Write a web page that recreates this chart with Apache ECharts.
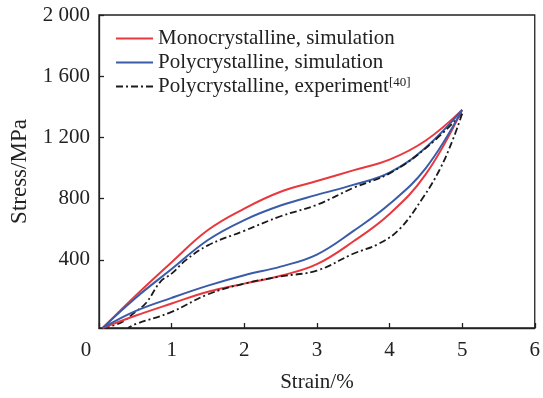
<!DOCTYPE html>
<html>
<head>
<meta charset="utf-8">
<script src="https://cdn.jsdelivr.net/npm/echarts@6/dist/echarts.min.js"></script>
<style>html,body{margin:0;padding:0;background:#fff;}#c{width:543px;height:398px;}</style>
</head>
<body>
<div id="c"></div>
<script>
// Strain (%) , Stress (MPa) pairs
const monoLoading   = [[0.05,-45],[0.5,165],[1.0,385],[1.5,595],[2.0,735],[2.5,845],[3.0,915],[3.5,985],[4.0,1055],[4.5,1180],[5.0,1380]];
const monoUnloading = [[5.0,1380],[4.5,960],[4.0,700],[3.5,520],[3.0,372],[2.5,296],[2.0,245],[1.5,192],[1.0,115],[0.5,35],[0.05,-45]];
const polyLoading   = [[0.05,-45],[0.5,150],[1.0,340],[1.5,530],[2.0,660],[2.5,755],[3.0,825],[3.5,890],[4.0,970],[4.5,1135],[5.0,1380]];
const polyUnloading = [[5.0,1380],[4.5,1000],[4.0,765],[3.5,588],[3.0,435],[2.5,356],[2.0,300],[1.5,232],[1.0,152],[0.5,65],[0.05,-45]];
const expLoading    = [[0.05,-45],[0.3,-10],[0.5,60],[0.65,120],[0.85,260],[1.0,310],[1.2,400],[1.5,495],[2.0,590],[2.5,685],[3.0,760],[3.5,870],[4.0,965],[4.5,1130],[5.0,1355]];
const expUnloading  = [[5.0,1355],[4.87,1183],[4.69,989],[4.46,806],[4.14,602],[3.85,505],[3.5,440],[3.0,330],[2.5,292],[2.0,245],[1.5,175],[1.0,60],[0.5,-20],[0.4,-45]];

const seriesNames = ['Monocrystalline, simulation','Polycrystalline, simulation','Polycrystalline, experiment[40]'];
const xTicks = [0,1,2,3,4,5,6];
const yTicks = [400,800,1200,1600,2000];

const FONT = 'Liberation Serif';
const RED = '#e8383d', BLUE = '#3a5ba8', BLACK = '#1a1a1a';

function line(name, data, color, type, width) {
  return {
    name: name, type: 'line', data: data, smooth: 0.4,
    showSymbol: false, symbol: 'none', symbolSize: 0,
    lineStyle: {color: color, width: width, type: type}, itemStyle: {color: color},
    animation: false
  };
}

const chart = echarts.init(document.getElementById('c'), null, {renderer: 'canvas'});
chart.setOption({
  backgroundColor: '#fff',
  animation: false,
  grid: {left: 99, right: 6, top: 15, bottom: 66, show: true, borderColor: '#222', borderWidth: 1.3, backgroundColor: 'transparent'},
  legend: {
    data: seriesNames, orient: 'vertical', left: 110, top: 23,
    itemWidth: 37, itemHeight: 10, itemGap: 3,
    itemStyle: {opacity: 0},
    textStyle: {fontFamily: FONT, fontSize: 21, color: '#222', lineHeight: 21,
      rich: {sup: {fontFamily: FONT, fontSize: 13, color: '#222', verticalAlign: 'top', lineHeight: 13, padding: [0,0,6,0]}}},
    formatter: function (n) { return n.replace('[40]', '{sup|[40]}'); }
  },
  xAxis: {
    type: 'value', min: 0, max: 6, interval: 1,
    name: 'Strain/%', nameLocation: 'middle', nameGap: 44,
    nameTextStyle: {fontFamily: FONT, fontSize: 21, color: '#222'},
    axisLine: {onZero: false, lineStyle: {color: '#222', width: 1.3}},
    axisTick: {inside: true, length: 5, lineStyle: {color: '#222', width: 1.3}},
    splitLine: {show: false},
    axisLabel: {
      fontFamily: FONT, fontSize: 21, color: '#222', margin: 12,
      customValues: xTicks,
      formatter: function (v) { return v === 0 ? '{z|0}' : String(v); },
      rich: {z: {fontFamily: FONT, fontSize: 21, color: '#222', padding: [0, 26, 0, 0]}}
    }
  },
  yAxis: {
    type: 'value', min: -45, max: 2000,
    name: 'Stress/MPa', nameLocation: 'middle', nameGap: 62,
    nameTextStyle: {fontFamily: FONT, fontSize: 23, color: '#222'},
    axisLine: {onZero: false, lineStyle: {color: '#222', width: 1.3}},
    axisTick: {inside: true, length: 5, customValues: yTicks, lineStyle: {color: '#222', width: 1.3}},
    splitLine: {show: false},
    axisLabel: {
      fontFamily: FONT, fontSize: 21, color: '#222', margin: 9,
      customValues: yTicks,
      formatter: function (v) { return v >= 1000 ? String(v).replace(/(\d)(\d{3})$/, '$1 $2') : String(v); }
    }
  },
  series: [
    line(seriesNames[0], monoLoading, RED, 'solid', 2),
    line(seriesNames[1], polyLoading, BLUE, 'solid', 2),
    line(seriesNames[2], expLoading, BLACK, [7,3,2,3], 1.8),
    line(seriesNames[0], monoUnloading, RED, 'solid', 2),
    line(seriesNames[1], polyUnloading, BLUE, 'solid', 2),
    line(seriesNames[2], expUnloading, BLACK, [7,3,2,3], 1.8)
  ]
});
</script>
</body>
</html>
